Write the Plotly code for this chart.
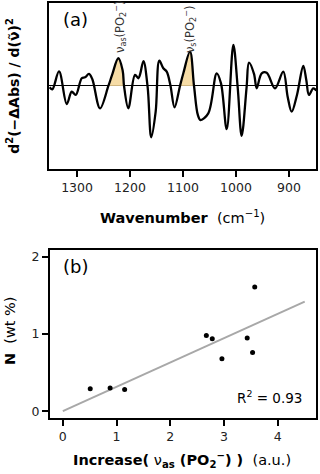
import plotly.graph_objects as go

# (a) second-derivative spectrum
wavenumber = [1351.6, 1346.6, 1334.0, 1319.4, 1310.0, 1302.5, 1291.1, 1284.9, 1277.4, 1271.1,
              1256.6, 1240.9, 1234.0, 1222.1, 1214.0, 1211.3, 1203.2, 1190.6, 1184.3, 1181.0,
              1174.6, 1166.7, 1160.0, 1151.6, 1144.7, 1137.2, 1130.8, 1123.9, 1116.0, 1105.7,
              1099.4, 1086.8, 1079.2, 1072.0, 1067.0, 1052.3, 1036.4, 1028.3, 1017.5, 1005.0,
              996.8, 989.3, 980.0, 975.5, 966.0, 961.0, 951.5, 942.0, 926.4, 910.8,
              902.5, 894.9, 884.9, 873.0, 867.3, 862.3, 854.2, 848.4]
d2_abs = [-0.016, -0.04, 0.175, -0.217, -0.069, -0.108, 0.093, 0.105, 0.145, 0.081,
          -0.269, 0.0, 0.13, 0.334, 0.19, 0.0, -0.269, 0.133, 0.093, 0.14,
          0.3, -0.016, -0.618, -0.309, 0.305, 0.213, 0.173, 0.012, -0.257, 0.0,
          0.153, 0.413, 0.0, -0.349, -0.41, -0.33, 0.153, 0.032, -0.52, 0.494,
          -0.016, -0.6, -0.016, 0.281, 0.145, -0.028, 0.153, 0.16, -0.028, 0.173,
          -0.129, -0.31, -0.108, 0.241, 0.072, -0.108, -0.028, -0.056]

# shaded bands (index ranges into the arrays above)
vas_band = (11, 16)   # nu_as(PO2-)
vs_band = (29, 33)    # nu_s(PO2-)

# (b) N content vs increase of nu_as(PO2-)
increase = [0.51, 0.88, 1.15, 2.67, 2.78, 2.96, 3.43, 3.53, 3.57]
n_wt = [0.29, 0.30, 0.28, 0.98, 0.94, 0.68, 0.95, 0.76, 1.61]
fit_x = [0.0, 4.5]
fit_y = [0.0, 1.42]

FONT = 'DejaVu Sans'
FILL = 'rgba(245,214,150,0.85)'

fig = go.Figure()

for a, b in (vas_band, vs_band):
    fig.add_trace(go.Scatter(
        x=wavenumber[a:b], y=d2_abs[a:b], mode='lines',
        line=dict(color='rgba(0,0,0,0)', shape='spline', smoothing=1.0),
        fill='tozeroy', fillcolor=FILL, xaxis='x', yaxis='y', showlegend=False))

fig.add_trace(go.Scatter(
    x=wavenumber, y=d2_abs, mode='lines',
    line=dict(color='black', width=2.3, shape='spline', smoothing=1.0),
    xaxis='x', yaxis='y', showlegend=False))

fig.add_trace(go.Scatter(
    x=fit_x, y=fit_y, mode='lines', line=dict(color='#a8a8a8', width=2),
    xaxis='x2', yaxis='y2', showlegend=False))
fig.add_trace(go.Scatter(
    x=increase, y=n_wt, mode='markers', marker=dict(color='black', size=5),
    xaxis='x2', yaxis='y2', showlegend=False))

axis_common = dict(showline=True, linecolor='black', linewidth=2, mirror=True,
                   showgrid=False, ticks='outside', ticklen=6, tickwidth=1.5,
                   tickcolor='black', tickfont=dict(family=FONT, size=12.5, color='#222'))

fig.update_layout(
    width=320, height=474,
    margin=dict(l=0, r=0, t=0, b=0),
    paper_bgcolor='white', plot_bgcolor='white',
    font=dict(family=FONT, color='black'),
    xaxis=dict(domain=[0.153, 0.9875], range=[1353, 849], dtick=100, anchor='y',
               zeroline=False, **axis_common),
    yaxis=dict(domain=[0.6435, 0.9937], range=[-1, 1], showticklabels=False, anchor='x',
               zeroline=True, zerolinecolor='black', zerolinewidth=1.2,
               **{k: v for k, v in axis_common.items() if k not in ('ticks',)}, ticks=''),
    xaxis2=dict(domain=[0.156, 0.9875], range=[-0.24, 4.71], dtick=1, anchor='y2',
                zeroline=False, **axis_common),
    yaxis2=dict(domain=[0.118, 0.4726], range=[-0.09, 2.09], dtick=1, anchor='x2',
                zeroline=False, **axis_common),
)

ann = [
    dict(text='(a)', x=0.19, y=0.958, xanchor='left', yanchor='middle', font=dict(size=18)),
    dict(text='(b)', x=0.19, y=0.437, xanchor='left', yanchor='middle', font=dict(size=18)),
    dict(text='ν<sub>as</sub>(PO<sub>2</sub><sup>−</sup>)', x=0.375, y=0.884, textangle=-90,
         xanchor='center', yanchor='bottom', font=dict(size=11.5, color='#333')),
    dict(text='ν<sub>s</sub>(PO<sub>2</sub><sup>−</sup>)', x=0.594, y=0.884, textangle=-90,
         xanchor='center', yanchor='bottom', font=dict(size=11.5, color='#333')),
    dict(text='<b>d<sup>2</sup>(−ΔAbs) / d(ν̃)<sup>2</sup></b>', x=0.042, y=0.818,
         textangle=-90, xanchor='center', yanchor='middle', font=dict(size=14)),
    dict(text='<b>Wavenumber</b>  (cm<sup>−1</sup>)', x=0.57, y=0.542,
         xanchor='center', yanchor='middle', font=dict(size=14.5)),
    dict(text='<b>N</b>  (wt %)', x=0.032, y=0.302, textangle=-90,
         xanchor='center', yanchor='middle', font=dict(size=14.5)),
    dict(text='<b>Increase(</b> ν<b><sub>as</sub> (PO<sub>2</sub><sup>−</sup>) )</b>  (a.u.)',
         x=0.57, y=0.03, xanchor='center', yanchor='middle', font=dict(size=14.5)),
    dict(text='R<sup>2</sup> = 0.93', x=0.95, y=0.162, xanchor='right', yanchor='middle',
         font=dict(size=13.5)),
]
for a in ann:
    a.update(xref='paper', yref='paper', showarrow=False)
    a.setdefault('font', {})
    a['font'].setdefault('family', FONT)
    a['font'].setdefault('color', 'black')
fig.update_layout(annotations=ann)

# the page has a default 8px body margin; drop it so the figure sits at 0,0
fig.write_html("out.html", config={'displayModeBar': False},
               post_script="document.body.style.margin='0';")
